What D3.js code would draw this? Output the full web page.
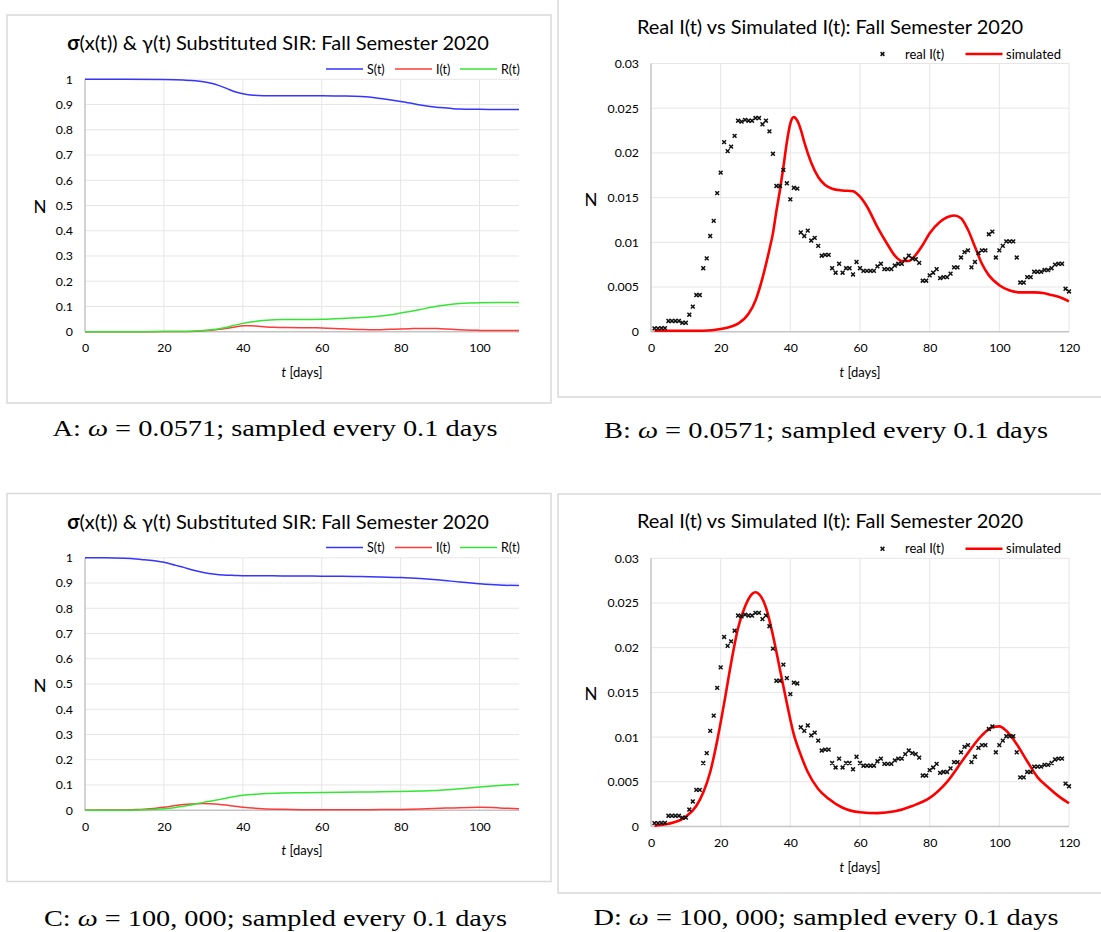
<!DOCTYPE html>
<html>
<head>
<meta charset="utf-8">
<script src="https://cdn.jsdelivr.net/npm/d3@7"></script>
<style>
  body { margin: 0; background: #fff; }
  text { font-family: Lato, "Open Sans", sans-serif; fill: #000; }
  .cap { font-family: "Liberation Serif", "DejaVu Serif", serif; }
</style>
</head>
<body>
<script>
// ---- data ----

// SIR curves, panel A (omega = 0.0571)
var sirADays = [0, 10, 20, 25, 28, 30, 32, 34, 36, 38, 40, 42, 44, 46, 48, 50, 55, 60, 65, 70, 72, 75, 78, 80, 83, 85, 88, 90, 93, 95, 98, 100, 105, 110];
var sirAS = [1, 1, 0.999, 0.997, 0.994, 0.99, 0.984, 0.975, 0.963, 0.951, 0.943, 0.938, 0.936, 0.935, 0.935, 0.935, 0.935, 0.935, 0.934, 0.932, 0.930, 0.924, 0.917, 0.912, 0.904, 0.898, 0.891, 0.888, 0.884, 0.882, 0.881, 0.881, 0.880, 0.880];
var sirAI = [0, 0, 0.0003, 0.0009, 0.002, 0.0035, 0.006, 0.0092, 0.0135, 0.0184, 0.0233, 0.0236, 0.0212, 0.0189, 0.0173, 0.0164, 0.0158, 0.0151, 0.0117, 0.0085, 0.0079, 0.0082, 0.0097, 0.011, 0.0123, 0.0128, 0.013, 0.0118, 0.0095, 0.0076, 0.0058, 0.0052, 0.0045, 0.0044];
var sirAR = [0, 0, 0.0005, 0.001, 0.003, 0.005, 0.008, 0.012, 0.018, 0.026, 0.033, 0.038, 0.042, 0.045, 0.047, 0.048, 0.048, 0.049, 0.052, 0.056, 0.058, 0.062, 0.068, 0.074, 0.082, 0.088, 0.098, 0.103, 0.109, 0.112, 0.114, 0.115, 0.116, 0.116];

// SIR curves, panel C (omega = 100,000)
var sirCDays = [0, 5, 10, 13, 15, 18, 20, 23, 25, 27, 30, 33, 35, 38, 40, 45, 50, 55, 60, 65, 70, 75, 80, 85, 90, 95, 100, 105, 110];
var sirCS = [1, 1, 0.998, 0.995, 0.992, 0.987, 0.982, 0.97, 0.962, 0.953, 0.942, 0.935, 0.932, 0.93, 0.929, 0.929, 0.928, 0.928, 0.927, 0.927, 0.926, 0.924, 0.922, 0.918, 0.912, 0.904, 0.897, 0.892, 0.890];
var sirCI = [0, 0.0003, 0.0011, 0.0023, 0.0038, 0.0078, 0.0117, 0.0183, 0.0222, 0.0246, 0.0262, 0.0245, 0.0214, 0.0157, 0.012, 0.0061, 0.0034, 0.0021, 0.0016, 0.0015, 0.0017, 0.0023, 0.0032, 0.005, 0.0077, 0.0102, 0.0112, 0.0092, 0.0055];
var sirCR = [0, 0, 0, 0.001, 0.002, 0.004, 0.006, 0.011, 0.016, 0.021, 0.031, 0.039, 0.045, 0.054, 0.059, 0.065, 0.068, 0.069, 0.07, 0.071, 0.072, 0.073, 0.074, 0.076, 0.079, 0.085, 0.092, 0.098, 0.103];

// real I(t), one value per day 1..120
var realI = [
  0.00037, 0.00037, 0.0004, 0.0004, 0.0012, 0.0012, 0.0012, 0.0012, 0.001, 0.001,
  0.0019, 0.0028, 0.0041, 0.0041, 0.0071, 0.0082, 0.0107, 0.0124, 0.0155, 0.0178,
  0.0212, 0.0202, 0.0207, 0.0219, 0.0236, 0.0235, 0.0237, 0.0236, 0.0236, 0.0239,
  0.0239, 0.0232, 0.0236, 0.0224, 0.0199, 0.0163, 0.0163, 0.0181, 0.0166, 0.0148,
  0.0161, 0.016, 0.0111, 0.0107, 0.0113, 0.0102, 0.0105, 0.0096, 0.0085, 0.0086,
  0.0086, 0.0071, 0.0066, 0.0076, 0.0066, 0.0071, 0.0071, 0.0064, 0.0078, 0.0071,
  0.0068, 0.0068, 0.0068, 0.0068, 0.0073, 0.0076, 0.007, 0.007, 0.007, 0.0074,
  0.0076, 0.0076, 0.0081, 0.0085, 0.0082, 0.0081, 0.0077, 0.0057, 0.0057, 0.0063,
  0.0066, 0.007, 0.006, 0.0061, 0.0061, 0.0065, 0.0072, 0.0072, 0.0083, 0.0089,
  0.0091, 0.0072, 0.0078, 0.0088, 0.0091, 0.0091, 0.0109, 0.0112, 0.0083, 0.0091,
  0.0096, 0.0101, 0.0101, 0.0101, 0.0083, 0.0055, 0.0055, 0.0061, 0.0061, 0.0067,
  0.0067, 0.0067, 0.0069, 0.0069, 0.0071, 0.0075, 0.0076, 0.0076, 0.0048, 0.0045
];

// simulated I(t), panel B
var simBDays = [1, 10, 15, 20, 25, 28, 30, 32, 34, 35, 36, 37, 38, 39, 40, 41, 42, 43, 44, 46, 48, 50, 52, 55, 58, 60, 62, 65, 68, 70, 72, 74, 76, 78, 80, 83, 85, 87, 89, 91, 93, 95, 97, 100, 103, 106, 110, 113, 115, 117, 120];
var simBVals = [0.0001, 0.0001, 0.0001, 0.0003, 0.0009, 0.002, 0.0035, 0.006, 0.0092, 0.011, 0.0135, 0.0158, 0.0184, 0.0212, 0.0233, 0.024, 0.0236, 0.0226, 0.0212, 0.0189, 0.0173, 0.0164, 0.016, 0.0158, 0.0157, 0.0151, 0.014, 0.0117, 0.0097, 0.0085, 0.0079, 0.0079, 0.0086, 0.0097, 0.011, 0.0123, 0.0128, 0.013, 0.0127, 0.0114, 0.0095, 0.0076, 0.0063, 0.0052, 0.0046, 0.0044, 0.0044, 0.0043, 0.0041, 0.0039, 0.0034];

// simulated I(t), panel D
var simDDays = [1, 5, 10, 13, 15, 17, 19, 21, 23, 25, 27, 29, 30, 31, 33, 35, 37, 39, 41, 43, 45, 48, 51, 55, 60, 65, 70, 75, 80, 85, 90, 95, 98, 100, 102, 105, 108, 111, 114, 117, 120];
var simDVals = [0.0001, 0.0003, 0.0011, 0.0023, 0.0038, 0.0061, 0.0096, 0.0138, 0.0183, 0.0222, 0.0246, 0.026, 0.0262, 0.026, 0.0245, 0.0214, 0.0176, 0.0138, 0.0103, 0.008, 0.0061, 0.0042, 0.0031, 0.0021, 0.0016, 0.0015, 0.0017, 0.0023, 0.0032, 0.005, 0.0077, 0.0102, 0.0111, 0.0112, 0.0107, 0.0092, 0.0073, 0.0055, 0.0044, 0.0034, 0.0026];

// ticks
var sirXTicks = [0, 20, 40, 60, 80, 100];
var sirYTicks = [0, 0.1, 0.2, 0.3, 0.4, 0.5, 0.6, 0.7, 0.8, 0.9, 1];
var cmpXTicks = [0, 20, 40, 60, 80, 100, 120];
var cmpYTicks = [0, 0.005, 0.01, 0.015, 0.02, 0.025, 0.03];

var sirNames = ["S(t)", "I(t)", "R(t)"];
var sirColors = ["#3535ff", "#ff3a3a", "#33e633"];

var captions = [
  ["A: ", "0.0571"],
  ["B: ", "0.0571"],
  ["C: ", "100, 000"],
  ["D: ", "100, 000"]
];

// ---- drawing ----
var svg = d3.select("body").append("svg")
    .attr("width", 1101)
    .attr("height", 932);

var fmt = function(d) { return String(+d.toFixed(3)); };

function frame(x0, y0, x1, y1) {
    svg.append("rect")
        .attr("x", x0).attr("y", y0)
        .attr("width", x1 - x0).attr("height", y1 - y0)
        .attr("fill", "#fff")
        .attr("stroke", "#d9d9d9")
        .attr("stroke-width", 1.5);
}

function axesAndGrid(x, y, xTicks, yTicks) {
    var g = svg.append("g");
    var r = x.range(), b = y.range();

    g.selectAll("line.vg").data(xTicks.filter(function(d) { return d > 0; }))
      .enter().append("line")
        .attr("x1", x).attr("x2", x)
        .attr("y1", b[0]).attr("y2", b[1])
        .attr("stroke", "#e6e6e6").attr("stroke-width", 1);

    g.selectAll("line.hg").data(yTicks.filter(function(d) { return d > 0; }))
      .enter().append("line")
        .attr("x1", r[0]).attr("x2", r[1])
        .attr("y1", y).attr("y2", y)
        .attr("stroke", "#e6e6e6").attr("stroke-width", 1);

    // axis lines
    g.append("line")
        .attr("x1", r[0]).attr("x2", r[0]).attr("y1", b[0]).attr("y2", b[1])
        .attr("stroke", "#c4c4c4").attr("stroke-width", 1.5);
    g.append("line")
        .attr("x1", r[0]).attr("x2", r[1]).attr("y1", b[0]).attr("y2", b[0])
        .attr("stroke", "#c4c4c4").attr("stroke-width", 1.5);

    var ax = g.append("g")
        .attr("transform", "translate(0," + b[0] + ")")
        .call(d3.axisBottom(x).tickValues(xTicks).tickSize(0).tickPadding(12).tickFormat(fmt));
    var ay = g.append("g")
        .attr("transform", "translate(" + r[0] + ",0)")
        .call(d3.axisLeft(y).tickValues(yTicks).tickSize(0).tickPadding(12).tickFormat(fmt));
    [ax, ay].forEach(function(a) {
        a.select(".domain").remove();
        a.selectAll("text").attr("font-family", "Lato, sans-serif").attr("font-size", 12.3).attr("fill", "#1a1a1a");
    });

    // axis titles
    var xl = svg.append("text")
        .attr("x", (r[0] + r[1]) / 2).attr("y", b[0] + 45)
        .attr("text-anchor", "middle").attr("font-size", 13);
    xl.append("tspan").attr("font-style", "italic").text("t");
    xl.append("tspan").text(" [days]");
}

function title(cx, cy, parts) {
    var t = svg.append("text")
        .attr("x", cx).attr("y", cy)
        .attr("text-anchor", "middle")
        .attr("font-size", 20);
    parts.forEach(function(p) {
        t.append("tspan").attr("font-weight", p[1] ? "bold" : "normal").text(p[0]);
    });
}

function yLabel(cx, cy) {
    svg.append("text")
        .attr("x", cx).attr("y", cy + 6)
        .attr("text-anchor", "middle")
        .attr("font-size", 17)
        .text("N");
}

function sirPanel(bx, by, days, S, I, R) {
    frame(bx, by, bx + 544, by + 388);
    var x = d3.scaleLinear().domain([0, 110]).range([bx + 78, bx + 512]);
    var y = d3.scaleLinear().domain([0, 1]).range([by + 316.7, by + 64.3]);
    axesAndGrid(x, y, sirXTicks, sirYTicks);

    title(bx + 271, by + 35, [["σ", true], ["(x(t)) & γ(t) Substituted SIR: Fall Semester 2020", false]]);
    yLabel(bx + 33, by + 192);

    var line = d3.line()
        .x(function(d) { return x(d[0]); })
        .y(function(d) { return y(d[1]); })
        .curve(d3.curveMonotoneX);

    [S, I, R].forEach(function(vals, k) {
        svg.append("path")
            .datum(days.map(function(d, i) { return [d, vals[i]]; }))
            .attr("fill", "none")
            .attr("stroke", sirColors[k])
            .attr("stroke-width", 1.5)
            .attr("d", line);
    });

    // legend
    var lx = [bx + 319, bx + 388, bx + 453];
    var ly = by + 54;
    sirNames.forEach(function(n, k) {
        svg.append("line")
            .attr("x1", lx[k]).attr("x2", lx[k] + 37)
            .attr("y1", ly).attr("y2", ly)
            .attr("stroke", sirColors[k]).attr("stroke-width", 1.5);
        svg.append("text")
            .attr("x", lx[k] + 41).attr("y", ly + 4.5)
            .attr("font-size", 12.5)
            .text(n);
    });
}

function cross(sel) {
    sel.append("path")
        .attr("d", "M-1.9,-1.9L1.9,1.9M-1.9,1.9L1.9,-1.9")
        .attr("stroke", "#111")
        .attr("stroke-width", 1.5)
        .attr("fill", "none");
}

function cmpPanel(bx, by, top, simDays, simVals) {
    frame(bx, by, bx + 546, by + 399);
    var x = d3.scaleLinear().domain([0, 120]).range([651, 1069]);
    var y = d3.scaleLinear().domain([0, 0.03]).range([top + 268.2, top]);
    axesAndGrid(x, y, cmpXTicks, cmpYTicks);

    title(830, top - 30, [["Real I(t) vs Simulated I(t): Fall Semester 2020", false]]);
    yLabel(591, (y.range()[0] + y.range()[1]) / 2 + 2);

    var line = d3.line()
        .x(function(d) { return x(d[0]); })
        .y(function(d) { return y(d[1]); })
        .curve(d3.curveMonotoneX);

    svg.append("path")
        .datum(simDays.map(function(d, i) { return [d, simVals[i]]; }))
        .attr("fill", "none")
        .attr("stroke", "#ff0000")
        .attr("stroke-width", 2.6)
        .attr("d", line);

    svg.append("g").selectAll("g")
        .data(realI)
      .enter().append("g")
        .attr("transform", function(d, i) { return "translate(" + x(i + 1) + "," + y(d) + ")"; })
        .each(function() { cross(d3.select(this)); });

    // legend
    var ly = top - 9.5;
    cross(svg.append("g").attr("transform", "translate(882.5," + ly + ")"));
    svg.append("text").attr("x", 905).attr("y", ly + 4.5).attr("font-size", 13).text("real I(t)");
    svg.append("line")
        .attr("x1", 965.5).attr("x2", 1002.5)
        .attr("y1", ly).attr("y2", ly)
        .attr("stroke", "#ff0000").attr("stroke-width", 2.6);
    svg.append("text").attr("x", 1006).attr("y", ly + 4.5).attr("font-size", 13).text("simulated");
}

function caption(cx, cy, k, width) {
    var t = svg.append("text")
        .attr("class", "cap")
        .attr("x", cx).attr("y", cy)
        .attr("text-anchor", "middle")
        .attr("font-size", 24)
        .attr("textLength", width)
        .attr("lengthAdjust", "spacingAndGlyphs");
    t.append("tspan").text(captions[k][0]);
    t.append("tspan").attr("font-style", "italic").text("ω");
    t.append("tspan").text(" = " + captions[k][1] + "; sampled every 0.1 days");
}

sirPanel(7, 15, sirADays, sirAS, sirAI, sirAR);
cmpPanel(558, -2, 63.5, simBDays, simBVals);
sirPanel(7, 493.5, sirCDays, sirCS, sirCI, sirCR);
cmpPanel(558, 494, 558.3, simDDays, simDVals);

caption(275, 436, 0, 445);
caption(826, 438, 1, 444);
caption(275.5, 926, 2, 463);
caption(826, 925, 3, 465);
</script>
</body>
</html>
